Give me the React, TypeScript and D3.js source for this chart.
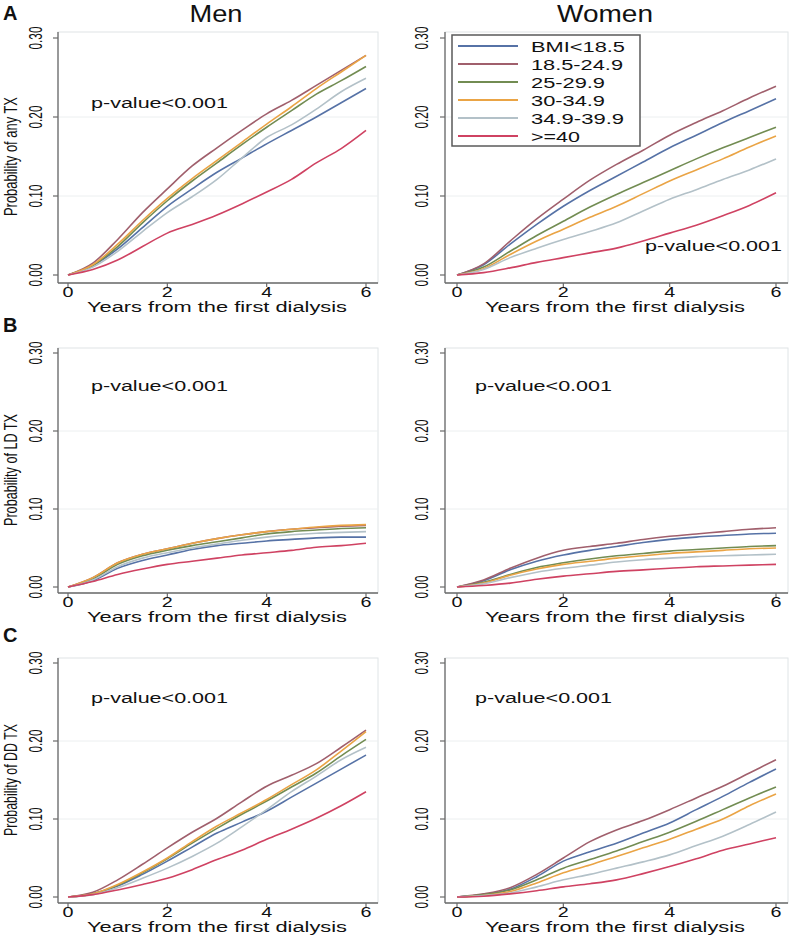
import React from "react";
import * as d3 from "d3";

const years = [0, 0.5, 1, 1.5, 2, 2.5, 3, 3.5, 4, 4.5, 5, 5.5, 6];
const groups = ["BMI<18.5", "18.5-24.9", "25-29.9", "30-34.9", "34.9-39.9", ">=40"];
const colors = ["#5672a6", "#a05f6c", "#728c52", "#eaa445", "#b3c1c8", "#cf4262"];
const yTicks = [0, 0.1, 0.2, 0.3];
const xTicks = [0, 2, 4, 6];
const rowLetters = ["A", "B", "C"];
const colTitles = ["Men", "Women"];
const yTitles = ["Probability of any TX", "Probability of LD TX", "Probability of DD TX"];

const anyMen = [
  [0, 0.012, 0.033, 0.06, 0.087, 0.109, 0.13, 0.148, 0.166, 0.183, 0.2, 0.218, 0.236],
  [0, 0.015, 0.045, 0.079, 0.109, 0.138, 0.161, 0.183, 0.204, 0.221, 0.24, 0.259, 0.278],
  [0, 0.012, 0.036, 0.066, 0.094, 0.119, 0.142, 0.165, 0.187, 0.208, 0.229, 0.246, 0.264],
  [0, 0.013, 0.039, 0.069, 0.097, 0.122, 0.145, 0.168, 0.191, 0.213, 0.236, 0.257, 0.278],
  [0, 0.01, 0.03, 0.055, 0.079, 0.099, 0.121, 0.148, 0.174, 0.19, 0.21, 0.232, 0.249],
  [0, 0.007, 0.019, 0.036, 0.053, 0.064, 0.076, 0.09, 0.105, 0.121, 0.142, 0.16, 0.183],
];
const anyWomen = [
  [0, 0.013, 0.039, 0.064, 0.087, 0.107, 0.125, 0.143, 0.161, 0.177, 0.193, 0.208, 0.223],
  [0, 0.014, 0.043, 0.071, 0.096, 0.12, 0.14, 0.158, 0.177, 0.193, 0.208, 0.224, 0.239],
  [0, 0.01, 0.03, 0.05, 0.068, 0.086, 0.102, 0.117, 0.132, 0.147, 0.161, 0.174, 0.187],
  [0, 0.008, 0.026, 0.043, 0.058, 0.073, 0.087, 0.103, 0.119, 0.133, 0.147, 0.162, 0.176],
  [0, 0.007, 0.022, 0.034, 0.045, 0.055, 0.066, 0.081, 0.096, 0.108, 0.121, 0.133, 0.147],
  [0, 0.003, 0.009, 0.016, 0.022, 0.028, 0.034, 0.043, 0.053, 0.063, 0.075, 0.088, 0.104],
];
const ldMen = [
  [0, 0.008, 0.024, 0.034, 0.041, 0.048, 0.053, 0.056, 0.059, 0.061, 0.063, 0.064, 0.064],
  [0, 0.012, 0.031, 0.042, 0.049, 0.056, 0.062, 0.067, 0.071, 0.074, 0.076, 0.078, 0.079],
  [0, 0.01, 0.029, 0.04, 0.047, 0.053, 0.058, 0.063, 0.068, 0.071, 0.073, 0.075, 0.076],
  [0, 0.012, 0.031, 0.042, 0.049, 0.056, 0.062, 0.067, 0.071, 0.074, 0.077, 0.079, 0.08],
  [0, 0.009, 0.026, 0.037, 0.044, 0.05, 0.055, 0.06, 0.064, 0.067, 0.069, 0.07, 0.071],
  [0, 0.007, 0.016, 0.023, 0.029, 0.033, 0.037, 0.041, 0.044, 0.047, 0.051, 0.053, 0.056],
];
const ldWomen = [
  [0, 0.008, 0.022, 0.033, 0.041, 0.047, 0.052, 0.057, 0.061, 0.064, 0.066, 0.068, 0.069],
  [0, 0.009, 0.024, 0.037, 0.047, 0.052, 0.056, 0.061, 0.065, 0.068, 0.071, 0.074, 0.076],
  [0, 0.006, 0.016, 0.025, 0.031, 0.036, 0.04, 0.043, 0.046, 0.048, 0.05, 0.052, 0.053],
  [0, 0.005, 0.015, 0.023, 0.029, 0.033, 0.037, 0.04, 0.043, 0.045, 0.047, 0.049, 0.05],
  [0, 0.004, 0.012, 0.019, 0.024, 0.028, 0.032, 0.035, 0.037, 0.039, 0.04, 0.041, 0.042],
  [0, 0.002, 0.005, 0.01, 0.014, 0.017, 0.02, 0.022, 0.024, 0.026, 0.027, 0.028, 0.029],
];
const ddMen = [
  [0, 0.004, 0.014, 0.029, 0.046, 0.064, 0.082, 0.096, 0.11, 0.128, 0.146, 0.164, 0.182],
  [0, 0.006, 0.022, 0.042, 0.063, 0.083, 0.101, 0.122, 0.142, 0.156, 0.171, 0.192, 0.214],
  [0, 0.004, 0.015, 0.031, 0.049, 0.069, 0.088, 0.106, 0.123, 0.141, 0.159, 0.181, 0.202],
  [0, 0.004, 0.016, 0.032, 0.05, 0.071, 0.091, 0.108, 0.125, 0.144, 0.163, 0.187, 0.212],
  [0, 0.003, 0.012, 0.024, 0.037, 0.052, 0.069, 0.09, 0.112, 0.135, 0.155, 0.176, 0.192],
  [0, 0.003, 0.009, 0.016, 0.024, 0.035, 0.048, 0.06, 0.074, 0.087, 0.101, 0.117, 0.135],
];
const ddWomen = [
  [0, 0.003, 0.01, 0.026, 0.046, 0.058, 0.069, 0.082, 0.095, 0.112, 0.129, 0.147, 0.164],
  [0, 0.004, 0.012, 0.029, 0.05, 0.071, 0.086, 0.098, 0.112, 0.127, 0.142, 0.159, 0.176],
  [0, 0.003, 0.009, 0.022, 0.037, 0.048, 0.059, 0.071, 0.083, 0.097, 0.112, 0.127, 0.141],
  [0, 0.002, 0.007, 0.018, 0.031, 0.041, 0.052, 0.063, 0.074, 0.087, 0.1, 0.117, 0.132],
  [0, 0.002, 0.005, 0.013, 0.022, 0.029, 0.037, 0.045, 0.054, 0.066, 0.078, 0.093, 0.109],
  [0, 0.001, 0.004, 0.008, 0.013, 0.017, 0.022, 0.03, 0.039, 0.049, 0.06, 0.068, 0.076],
];

const panelData = [
  [anyMen, anyWomen],
  [ldMen, ldWomen],
  [ddMen, ddWomen],
];

// layout
const cols = [
  { axisX: 58, x0: 68, x1: 366, right: 378, tickLabX: 35, titleX: 217, pvalX: 91 },
  { axisX: 445, x0: 457, x1: 776, right: 788, tickLabX: 421, titleX: 615, pvalX: 475 },
];
const rows = [
  { yTop: 38, yBot: 275, axisY: 283, frameTop: 32, letterY: 20 },
  { yTop: 353, yBot: 587, axisY: 593, frameTop: 348, letterY: 332 },
  { yTop: 663, yBot: 897, axisY: 903, frameTop: 658, letterY: 642 },
];
const pvalY = [
  [108, 251],
  [391, 391],
  [703, 703],
];

const SANS = "'Liberation Sans', Arial, Helvetica, sans-serif";
const NARROW = "'Liberation Sans Narrow', 'Liberation Sans', Arial, sans-serif";

function Panel({ r, c }: { r: number; c: number }) {
  const col = cols[c];
  const row = rows[r];
  const x = d3.scaleLinear().domain([0, 6]).range([col.x0, col.x1]);
  const y = d3.scaleLinear().domain([0, 0.3]).range([row.yBot, row.yTop]);
  const line = d3
    .line<number>()
    .x((_, i) => x(years[i]))
    .y((v) => y(v))
    .curve(d3.curveMonotoneX);
  const data = panelData[r][c];
  const midY = (row.yTop + row.yBot) / 2;
  return (
    <g>
      <rect
        x={col.axisX}
        y={row.frameTop}
        width={col.right - col.axisX}
        height={row.axisY - row.frameTop}
        fill="#ffffff"
        stroke="#dfe4e6"
        strokeWidth={1}
      />
      {[0.1, 0.2].map((t) => (
        <line key={t} x1={col.axisX} x2={col.right} y1={y(t)} y2={y(t)} stroke="#eceff0" strokeWidth={1} />
      ))}
      <line x1={col.axisX} x2={col.axisX} y1={row.frameTop} y2={row.axisY} stroke="#6a6a6a" strokeWidth={1.3} />
      <line x1={col.axisX} x2={col.right} y1={row.axisY} y2={row.axisY} stroke="#6a6a6a" strokeWidth={1.3} />
      {yTicks.map((t) => (
        <g key={t}>
          <line x1={col.axisX - 5} x2={col.axisX} y1={y(t)} y2={y(t)} stroke="#6a6a6a" strokeWidth={1.2} />
          <text
            transform={`translate(${col.tickLabX + 6.5},${y(t)}) rotate(-90)`}
            textAnchor="middle"
            fontFamily={NARROW}
            fontSize={18}
            textLength={23}
            lengthAdjust="spacingAndGlyphs"
            fill="#111"
          >
            {t.toFixed(2)}
          </text>
        </g>
      ))}
      {xTicks.map((t) => (
        <g key={t}>
          <line x1={x(t)} x2={x(t)} y1={row.axisY} y2={row.axisY + 4} stroke="#6a6a6a" strokeWidth={1.2} />
          <text
            x={x(t)}
            y={row.axisY + 14}
            textAnchor="middle"
            fontFamily={SANS}
            fontSize={14.5}
            textLength={11}
            lengthAdjust="spacingAndGlyphs"
            fill="#111"
          >
            {t}
          </text>
        </g>
      ))}
      <text
        x={col.titleX}
        y={row.axisY + 29}
        textAnchor="middle"
        fontFamily={SANS}
        fontSize={15.5}
        textLength={260}
        lengthAdjust="spacingAndGlyphs"
        fill="#111"
      >
        Years from the first dialysis
      </text>
      {c === 0 && (
        <text
          transform={`translate(${16.5},${midY}) rotate(-90)`}
          textAnchor="middle"
          fontFamily={NARROW}
          fontSize={18}
          textLength={r === 0 ? 119 : 112}
          lengthAdjust="spacingAndGlyphs"
          fill="#111"
        >
          {yTitles[r]}
        </text>
      )}
      {data.map((s, i) => (
        <path key={i} d={line(s) || ""} fill="none" stroke={colors[i]} strokeWidth={1.6} />
      ))}
      <text
        x={col.pvalX + (r === 0 && c === 1 ? 170 : 0)}
        y={pvalY[r][c]}
        fontFamily={SANS}
        fontSize={15.5}
        textLength={137}
        lengthAdjust="spacingAndGlyphs"
        fill="#111"
      >
        p-value&lt;0.001
      </text>
    </g>
  );
}

function Legend() {
  const bx = 452;
  const by = 35;
  const rowY = [46, 64, 82, 100, 118, 136];
  const widths = [94, 92, 74, 74, 93, 49];
  return (
    <g>
      <rect x={bx} y={by} width={188} height={111} fill="#ffffff" stroke="#5a5a5a" strokeWidth={1.5} />
      {groups.map((g, i) => (
        <g key={g}>
          <line x1={458} x2={518} y1={rowY[i]} y2={rowY[i]} stroke={colors[i]} strokeWidth={2} />
          <text
            x={531}
            y={rowY[i] + 5.5}
            fontFamily={SANS}
            fontSize={15.5}
            textLength={widths[i]}
            lengthAdjust="spacingAndGlyphs"
            fill="#111"
          >
            {g}
          </text>
        </g>
      ))}
    </g>
  );
}

export default function App() {
  return (
    <svg width={799} height={935} style={{ display: "block", position: "absolute", left: 0, top: 0 }}>
      <rect x={0} y={0} width={799} height={935} fill="#ffffff" />
      {colTitles.map((t, c) => (
        <text
          key={t}
          x={c === 0 ? 216 : 605}
          y={22}
          textAnchor="middle"
          fontFamily={SANS}
          fontSize={23.5}
          textLength={c === 0 ? 53 : 96}
          lengthAdjust="spacingAndGlyphs"
          fill="#111"
        >
          {t}
        </text>
      ))}
      {rowLetters.map((l, r) => (
        <text key={l} x={3} y={rows[r].letterY} fontFamily={SANS} fontWeight="bold" fontSize={20} fill="#111">
          {l}
        </text>
      ))}
      {[0, 1, 2].map((r) => [0, 1].map((c) => <Panel key={`${r}-${c}`} r={r} c={c} />))}
      <Legend />
    </svg>
  );
}
